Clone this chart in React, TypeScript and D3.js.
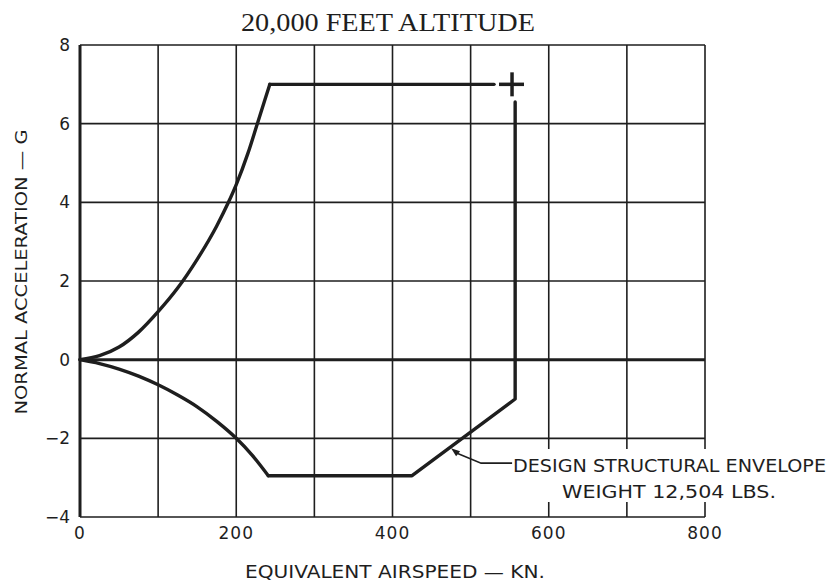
import * as d3 from 'd3';

// grid / tick values
const xGrid = [0, 100, 200, 300, 400, 500, 600, 700, 800];
const xLabels = [0, 200, 400, 600, 800];
const yGrid = [8, 6, 4, 2, 0, -2, -4];

// envelope: airspeed (kn) vs load factor (G)
// curved (stall) parts
const posStallSpeed = [0, 25, 50, 75, 100, 125, 150, 175, 190, 200, 215, 227, 243];
const posStallG = [0, 0.1, 0.32, 0.7, 1.22, 1.82, 2.55, 3.4, 4.0, 4.45, 5.25, 6, 7];
const negStallSpeed = [0, 25, 50, 75, 100, 125, 150, 175, 200, 220, 241];
const negStallG = [0, -0.1, -0.24, -0.42, -0.64, -0.9, -1.2, -1.57, -2.0, -2.42, -2.95];
// straight parts
const topSpeed = [243, 530];
const topG = [7, 7];
const bottomSpeed = [241, 425, 557, 557];
const bottomG = [-2.95, -2.95, -1, 6.55];
const limitPoint = { speed: 553, g: 7 };
const arrowAt = { speed: 475, g: -2.25 };

const width = 828;
const height = 583;
const marginLeft = 80;
const marginRight = 123;
const marginTop = 45;
const marginBottom = 66;

const ink = '#1e1e1e';
const letterFont = '"DejaVu Sans", sans-serif';

export default function App() {
  const x = d3.scaleLinear().domain([0, 800]).range([marginLeft, width - marginRight]);
  const y = d3.scaleLinear().domain([-4, 8]).range([height - marginBottom, marginTop]);

  const straight = d3.line<[number, number]>()
    .x(d => x(d[0]))
    .y(d => y(d[1]));
  const smooth = d3.line<[number, number]>()
    .x(d => x(d[0]))
    .y(d => y(d[1]))
    .curve(d3.curveMonotoneX);

  const pairs = (s: number[], g: number[]) => s.map((v, i) => [v, g[i]] as [number, number]);
  const paths = [
    smooth(pairs(posStallSpeed, posStallG)),
    smooth(pairs(negStallSpeed, negStallG)),
    straight(pairs(topSpeed, topG)),
    straight(pairs(bottomSpeed, bottomG)),
  ];

  const cx = x(limitPoint.speed);
  const cy = y(limitPoint.g);
  const ax = x(arrowAt.speed);
  const ay = y(arrowAt.g);

  return (
    <svg width={width} height={height} style={{ position: 'absolute', left: 0, top: 0, background: 'white' }}>
      <text x={388} y={31} textAnchor="middle" textLength={294} lengthAdjust="spacingAndGlyphs"
        style={{ font: '25px "Liberation Serif", serif', fill: ink }}>
        20,000 FEET ALTITUDE
      </text>

      {/* grid */}
      {xGrid.map(v => (
        <line key={'x' + v} x1={x(v)} x2={x(v)} y1={y(8)} y2={y(-4)} stroke={ink}
          strokeWidth={v === 0 ? 3 : 1.6} />
      ))}
      {yGrid.map(v => (
        <line key={'y' + v} x1={x(0)} x2={x(800)} y1={y(v)} y2={y(v)} stroke={ink}
          strokeWidth={v === 0 ? 3 : 1.6} />
      ))}

      {/* white patch for the note */}
      <rect x={509} y={449} width={319} height={53} fill="white" />

      {/* envelope */}
      {paths.map((d, i) => (
        <path key={i} d={d || ''} fill="none" stroke={ink} strokeWidth={3.4} strokeLinejoin="round" strokeLinecap="round" />
      ))}
      <line x1={cx - 13} x2={cx + 12} y1={cy} y2={cy} stroke={ink} strokeWidth={3.5} />
      <line x1={cx} x2={cx} y1={cy - 12} y2={cy + 12} stroke={ink} strokeWidth={3.5} />

      {/* leader */}
      <path d={`M${ax},${ay} L${ax + 9},${ay + 3} L${ax + 5},${ay + 8} Z`} fill={ink} />
      <path d={`M${ax + 6},${ay + 5} L${ax + 30},${ay + 15} L${ax + 61},${ay + 15}`} fill="none" stroke={ink} strokeWidth={1.6} />
      <text x={513} y={472} textLength={313} lengthAdjust="spacingAndGlyphs"
        style={{ font: `17px ${letterFont}`, fill: ink }}>
        DESIGN STRUCTURAL ENVELOPE
      </text>
      <text x={562} y={498} textLength={214} lengthAdjust="spacingAndGlyphs"
        style={{ font: `17px ${letterFont}`, fill: ink }}>
        WEIGHT 12,504 LBS.
      </text>

      {/* tick labels */}
      {xLabels.map(v => (
        <text key={'xl' + v} x={x(v)} y={539} textAnchor="middle"
          style={{ font: `17px ${letterFont}`, fill: ink, letterSpacing: '1px' }}>
          {v}
        </text>
      ))}
      {yGrid.map(v => (
        <text key={'yl' + v} x={70} y={y(v) + 6} textAnchor="end"
          style={{ font: `17px ${letterFont}`, fill: ink }}>
          {v < 0 ? '\u2212' + Math.abs(v) : v}
        </text>
      ))}

      <text x={395} y={578} textAnchor="middle" textLength={300} lengthAdjust="spacingAndGlyphs"
        style={{ font: `17px ${letterFont}`, fill: ink }}>
        EQUIVALENT AIRSPEED — KN.
      </text>
      <text transform={`translate(27, 272) rotate(-90)`} textAnchor="middle" textLength={285} lengthAdjust="spacingAndGlyphs"
        style={{ font: `16px ${letterFont}`, fill: ink }}>
        NORMAL ACCELERATION — G
      </text>
    </svg>
  );
}
